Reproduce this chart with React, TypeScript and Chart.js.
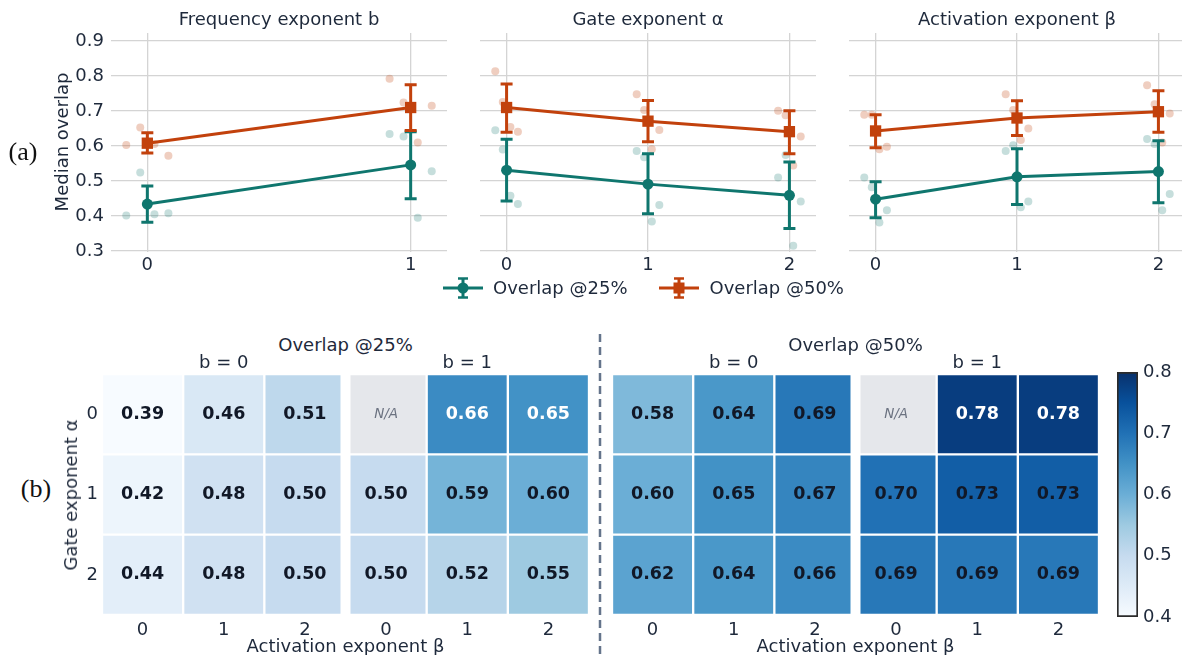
import React, { useEffect, useRef } from 'react';
import { Chart, registerables } from 'chart.js';

Chart.register(...registerables);

const FONT = "'DejaVu Sans', 'Noto Sans', sans-serif";
const SERIF = "'Liberation Serif', 'DejaVu Serif', serif";
const TEXT = '#1e293b';
const GRID = '#d4d4d4';
const TEAL = '#0f766e';
const ORANGE = '#c2410c';
const TEAL_FAINT = 'rgba(15,118,110,0.24)';
const ORANGE_FAINT = 'rgba(194,65,12,0.26)';
const NA_FILL = '#e5e7eb';
const NA_TEXT = '#6b7280';
const CELL_TEXT = '#111827';

Chart.defaults.font.family = FONT;
Chart.defaults.color = TEXT;

// ---------------- (a) data ----------------
const seriesNames = ['Overlap @25%', 'Overlap @50%'];
const panelTitles = ['Frequency exponent b', 'Gate exponent α', 'Activation exponent β'];
const yTickValues = [0.3, 0.4, 0.5, 0.6, 0.7, 0.8, 0.9];
const jitterOffsets = [-0.08, -0.027, 0.027, 0.08];

const bCategories = ['0', '1'];
const bMean25 = [0.434, 0.546];
const bLo25 = [0.382, 0.449];
const bHi25 = [0.486, 0.641];
const bMean50 = [0.608, 0.71];
const bLo50 = [0.58, 0.644];
const bHi50 = [0.638, 0.775];
const bRuns25 = [[0.401, 0.524, 0.405, 0.408], [0.634, 0.627, 0.395, 0.528]];
const bRuns50 = [[0.603, 0.653, 0.606, 0.572], [0.792, 0.724, 0.61, 0.715]];

const alphaCategories = ['0', '1', '2'];
const alphaMean25 = [0.531, 0.491, 0.459];
const alphaLo25 = [0.443, 0.406, 0.364];
const alphaHi25 = [0.619, 0.578, 0.554];
const alphaMean50 = [0.71, 0.671, 0.641];
const alphaLo50 = [0.639, 0.612, 0.578];
const alphaHi50 = [0.777, 0.73, 0.701];
const alphaRuns25 = [[0.645, 0.59, 0.458, 0.434], [0.586, 0.568, 0.384, 0.431], [0.51, 0.574, 0.315, 0.441]];
const alphaRuns50 = [[0.814, 0.726, 0.654, 0.641], [0.748, 0.703, 0.591, 0.646], [0.701, 0.688, 0.544, 0.627]];

const betaCategories = ['0', '1', '2'];
const betaMean25 = [0.448, 0.512, 0.527];
const betaLo25 = [0.395, 0.433, 0.438];
const betaHi25 = [0.498, 0.592, 0.615];
const betaMean50 = [0.643, 0.68, 0.698];
const betaLo50 = [0.595, 0.63, 0.639];
const betaHi50 = [0.689, 0.729, 0.758];
const betaRuns25 = [[0.51, 0.482, 0.381, 0.416], [0.586, 0.602, 0.425, 0.441], [0.62, 0.606, 0.416, 0.463]];
const betaRuns50 = [[0.689, 0.689, 0.591, 0.598], [0.748, 0.703, 0.617, 0.65], [0.774, 0.719, 0.61, 0.693]];

// ---------------- (b) data ----------------
const heatColumnLabels = ['0', '1', '2', '0', '1', '2']; // β for b = 0 | b = 1
const heatGroupLabels = ['b = 0', 'b = 1'];
const heatRowLabels = ['0', '1', '2']; // α
const heatTitles = ['Overlap @25%', 'Overlap @50%'];
const overlap25Grid: (number | null)[][] = [
  [0.39, 0.46, 0.51, null, 0.66, 0.65],
  [0.42, 0.48, 0.5, 0.5, 0.59, 0.6],
  [0.44, 0.48, 0.5, 0.5, 0.52, 0.55],
];
const overlap50Grid: (number | null)[][] = [
  [0.58, 0.64, 0.69, null, 0.78, 0.78],
  [0.6, 0.65, 0.67, 0.7, 0.73, 0.73],
  [0.62, 0.64, 0.66, 0.69, 0.69, 0.69],
];
const colorbarTicks = [0.4, 0.5, 0.6, 0.7, 0.8];
const colorMin = 0.4;
const colorMax = 0.8;
const BLUES = ['#f7fbff', '#deebf7', '#c6dbef', '#9ecae1', '#6baed6', '#4292c6', '#2171b5', '#08519c', '#08306b'];

function hexToRgb(h: string) {
  return [parseInt(h.slice(1, 3), 16), parseInt(h.slice(3, 5), 16), parseInt(h.slice(5, 7), 16)];
}
function blues(v: number) {
  const t = Math.min(1, Math.max(0, (v - colorMin) / (colorMax - colorMin)));
  const pos = t * (BLUES.length - 1);
  const i0 = Math.min(BLUES.length - 2, Math.floor(pos));
  const f = pos - i0;
  const a = hexToRgb(BLUES[i0]);
  const b = hexToRgb(BLUES[i0 + 1]);
  const c = a.map((x, k) => Math.round(x + (b[k] - x) * f));
  return `rgb(${c[0]},${c[1]},${c[2]})`;
}

const zeroPad = (s: any) => {
  s.paddingTop = 0;
  s.paddingBottom = 0;
  s.paddingLeft = 0;
  s.paddingRight = 0;
};

// ---------------- plugins ----------------
const errorBarPlugin = {
  id: 'errorBars',
  beforeDatasetDraw(chart: any, args: any) {
    const ds = chart.data.datasets[args.index];
    if (!ds.errLo) return;
    const xs = chart.scales.x;
    const ys = chart.scales.y;
    const ctx = chart.ctx;
    ctx.save();
    ctx.strokeStyle = ds.borderColor;
    ctx.lineWidth = 3;
    ds.data.forEach((pt: any, i: number) => {
      const px = xs.getPixelForValue(pt.x);
      const lo = ys.getPixelForValue(ds.errLo[i]);
      const hi = ys.getPixelForValue(ds.errHi[i]);
      ctx.beginPath();
      ctx.moveTo(px, lo);
      ctx.lineTo(px, hi);
      ctx.moveTo(px - 6, lo);
      ctx.lineTo(px + 6, lo);
      ctx.moveTo(px - 6, hi);
      ctx.lineTo(px + 6, hi);
      ctx.stroke();
    });
    ctx.restore();
  },
};

const heatLabelPlugin = {
  id: 'heatLabels',
  afterDatasetsDraw(chart: any) {
    const ctx = chart.ctx;
    const xs = chart.scales.x;
    const area = chart.chartArea;
    // white separator between the b = 0 and b = 1 blocks
    const xSep = (xs.getPixelForValue(2) + xs.getPixelForValue(3)) / 2;
    ctx.save();
    ctx.fillStyle = '#ffffff';
    ctx.fillRect(xSep - 5, area.top - 1, 10, area.bottom - area.top + 2);
    const all: number[] = [];
    chart.data.datasets.forEach((ds: any) => ds.cellValues.forEach((v: any) => v != null && all.push(v)));
    const lo = Math.min(...all);
    const hi = Math.max(...all);
    const thr = lo + 0.85 * (hi - lo);
    ctx.textAlign = 'center';
    ctx.textBaseline = 'middle';
    chart.data.datasets.forEach((ds: any, di: number) => {
      const meta = chart.getDatasetMeta(di);
      meta.data.forEach((el: any, i: number) => {
        const v = ds.cellValues[i];
        const cy = (el.y + el.base) / 2;
        if (v == null) {
          ctx.font = `italic 13.5px ${FONT}`;
          ctx.fillStyle = NA_TEXT;
          ctx.fillText('N/A', el.x, cy);
        } else {
          ctx.font = `bold 17.5px ${FONT}`;
          ctx.fillStyle = v > thr ? '#ffffff' : CELL_TEXT;
          ctx.fillText(v.toFixed(2), el.x, cy);
        }
      });
    });
    ctx.restore();
  },
};

// ---------------- configs ----------------
type Panel = {
  title: string;
  cats: string[];
  mean25: number[]; lo25: number[]; hi25: number[];
  mean50: number[]; lo50: number[]; hi50: number[];
  runs25: number[][]; runs50: number[][];
  xMin: number; xMax: number;
  left: number; width: number; yAxisWidth: number; padRight: number; showY: boolean; titleX: number;
};

const panels: Panel[] = [
  {
    title: panelTitles[0], cats: bCategories,
    mean25: bMean25, lo25: bLo25, hi25: bHi25, mean50: bMean50, lo50: bLo50, hi50: bHi50,
    runs25: bRuns25, runs50: bRuns50, xMin: -0.138, xMax: 1.138,
    left: 0, width: 460, yAxisWidth: 111, padRight: 13, showY: true, titleX: 279,
  },
  {
    title: panelTitles[1], cats: alphaCategories,
    mean25: alphaMean25, lo25: alphaLo25, hi25: alphaHi25, mean50: alphaMean50, lo50: alphaLo50, hi50: alphaHi50,
    runs25: alphaRuns25, runs50: alphaRuns50, xMin: -0.188, xMax: 2.188,
    left: 470, width: 360, yAxisWidth: 10, padRight: 14, showY: false, titleX: 648,
  },
  {
    title: panelTitles[2], cats: betaCategories,
    mean25: betaMean25, lo25: betaLo25, hi25: betaHi25, mean50: betaMean50, lo50: betaLo50, hi50: betaHi50,
    runs25: betaRuns25, runs50: betaRuns50, xMin: -0.188, xMax: 2.188,
    left: 840, width: 345, yAxisWidth: 9, padRight: 0, showY: false, titleX: 1017,
  },
];

function runsToPoints(runs: number[][]) {
  const pts: { x: number; y: number }[] = [];
  runs.forEach((row, c) => row.forEach((y, k) => pts.push({ x: c + jitterOffsets[k], y })));
  return pts;
}

function lineConfig(p: Panel): any {
  return {
    type: 'scatter',
    data: {
      datasets: [
        {
          label: 'runs25', data: runsToPoints(p.runs25), order: 4,
          pointRadius: 4, pointHoverRadius: 4, pointBackgroundColor: TEAL_FAINT, pointBorderWidth: 0, showLine: false,
        },
        {
          label: 'runs50', data: runsToPoints(p.runs50), order: 3,
          pointRadius: 4, pointHoverRadius: 4, pointBackgroundColor: ORANGE_FAINT, pointBorderWidth: 0, showLine: false,
        },
        {
          label: seriesNames[0], data: p.mean25.map((y, i) => ({ x: i, y })), order: 1,
          showLine: true, borderColor: TEAL, borderWidth: 3, backgroundColor: TEAL,
          pointStyle: 'circle', pointRadius: 5.5, pointHoverRadius: 5.5, pointBorderWidth: 0, pointBackgroundColor: TEAL,
          errLo: p.lo25, errHi: p.hi25,
        },
        {
          label: seriesNames[1], data: p.mean50.map((y, i) => ({ x: i, y })), order: 0,
          showLine: true, borderColor: ORANGE, borderWidth: 3, backgroundColor: ORANGE,
          pointStyle: 'rect', pointRadius: 8, pointHoverRadius: 8, pointBorderWidth: 0, pointBackgroundColor: ORANGE,
          errLo: p.lo50, errHi: p.hi50,
        },
      ],
    },
    options: {
      animation: false,
      responsive: false,
      devicePixelRatio: 1,
      events: [],
      layout: { autoPadding: false, padding: { top: 8, right: p.padRight, left: 0, bottom: 0 } },
      plugins: { legend: { display: false }, tooltip: { enabled: false }, title: { display: false } },
      scales: {
        x: {
          type: 'linear', min: p.xMin, max: p.xMax,
          afterBuildTicks: (s: any) => { s.ticks = p.cats.map((_, i) => ({ value: i })); },
          afterFit: (s: any) => { s.height = 28; zeroPad(s); },
          ticks: {
            callback: (v: any) => p.cats[Math.round(v)] ?? '',
            font: { size: 18 }, color: TEXT, padding: 3, autoSkip: false, maxRotation: 0,
          },
          grid: { color: GRID, lineWidth: 1.3, drawTicks: false },
          border: { display: false },
        },
        y: {
          type: 'linear', min: 0.297, max: 0.923,
          afterBuildTicks: (s: any) => { s.ticks = yTickValues.map((v) => ({ value: v })); },
          afterFit: (s: any) => { s.width = p.yAxisWidth; zeroPad(s); },
          ticks: {
            display: p.showY,
            callback: (v: any) => Number(v).toFixed(1),
            font: { size: 18 }, color: TEXT, padding: 7,
          },
          grid: { color: GRID, lineWidth: 1.3, drawTicks: false },
          border: { display: false },
        },
      },
    },
    plugins: [errorBarPlugin],
  };
}

function heatConfig(grid: (number | null)[][], yAxisWidth: number, showY: boolean): any {
  return {
    type: 'bar',
    data: {
      labels: heatColumnLabels,
      datasets: grid.map((row, r) => ({
        label: `α = ${heatRowLabels[r]}`,
        data: row.map(() => [r - 0.5, r + 0.5]),
        cellValues: row,
        backgroundColor: row.map((v) => (v == null ? NA_FILL : blues(v))),
        borderColor: '#ffffff',
        borderWidth: 1.5,
        borderSkipped: false,
        barPercentage: 1,
        categoryPercentage: 1,
        grouped: false,
      })),
    },
    options: {
      animation: false,
      responsive: false,
      devicePixelRatio: 1,
      events: [],
      layout: { autoPadding: false, padding: { top: 9, right: 11, left: 0, bottom: 0 } },
      plugins: { legend: { display: false }, tooltip: { enabled: false } },
      scales: {
        x: {
          type: 'category',
          afterFit: (s: any) => { s.height = 40; zeroPad(s); },
          ticks: { font: { size: 18 }, color: TEXT, padding: 5, maxRotation: 0, autoSkip: false },
          grid: { display: false, drawTicks: false },
          border: { display: false },
        },
        y: {
          type: 'linear', reverse: true, min: -0.5, max: 2.5,
          afterBuildTicks: (s: any) => { s.ticks = heatRowLabels.map((_, i) => ({ value: i })); },
          afterFit: (s: any) => { s.width = yAxisWidth; zeroPad(s); },
          ticks: {
            display: showY,
            callback: (v: any) => heatRowLabels[Math.round(v)] ?? '',
            font: { size: 18 }, color: TEXT, padding: 4,
          },
          grid: { display: false, drawTicks: false },
          border: { display: false },
        },
      },
    },
    plugins: [heatLabelPlugin],
  };
}

function colorbarConfig(): any {
  return {
    type: 'bar',
    data: {
      labels: [''],
      datasets: [
        {
          data: [[colorMin, colorMax]],
          backgroundColor: (c: any) => {
            const chart = c.chart;
            if (!chart.chartArea) return BLUES[4];
            const ys = chart.scales.y;
            const g = chart.ctx.createLinearGradient(0, ys.getPixelForValue(colorMin), 0, ys.getPixelForValue(colorMax));
            BLUES.forEach((col, i) => g.addColorStop(i / (BLUES.length - 1), col));
            return g;
          },
          borderColor: '#2b2b2b',
          borderWidth: 2,
          borderSkipped: false,
          barPercentage: 1,
          categoryPercentage: 1,
        },
      ],
    },
    options: {
      animation: false,
      responsive: false,
      devicePixelRatio: 1,
      events: [],
      layout: { autoPadding: false, padding: { top: 17, right: 0, left: 7, bottom: 18 } },
      plugins: { legend: { display: false }, tooltip: { enabled: false } },
      scales: {
        x: { display: false },
        y: {
          position: 'right', min: colorMin, max: colorMax,
          afterBuildTicks: (s: any) => { s.ticks = colorbarTicks.map((v) => ({ value: v })); },
          afterFit: (s: any) => { s.width = 44; zeroPad(s); },
          ticks: { callback: (v: any) => Number(v).toFixed(1), font: { size: 18 }, color: TEXT, padding: 5 },
          grid: { display: false, drawTicks: false },
          border: { display: false },
        },
      },
    },
  };
}

// ---------------- components ----------------
function ChartBox({ left, top, width, height, make }: { left: number; top: number; width: number; height: number; make: () => any }) {
  const ref = useRef<HTMLCanvasElement>(null);
  useEffect(() => {
    const chart = new Chart(ref.current as HTMLCanvasElement, make());
    return () => chart.destroy();
  }, []);
  return <canvas ref={ref} width={width} height={height} style={{ position: 'absolute', left, top, width, height }} />;
}

function Label({ x, y, text, size = 18, rotate = false, family = FONT, color = TEXT }: any) {
  return (
    <div
      style={{
        position: 'absolute', left: x, top: y,
        transform: `translate(-50%, -50%)${rotate ? ' rotate(-90deg)' : ''}`,
        fontFamily: family, fontSize: size, color, whiteSpace: 'nowrap', lineHeight: 1,
      }}
    >
      {text}
    </div>
  );
}

function LegendIcon({ color, square }: { color: string; square: boolean }) {
  return (
    <svg width={40} height={24} style={{ display: 'block' }}>
      <line x1={0} y1={12} x2={40} y2={12} stroke={color} strokeWidth={3} />
      <line x1={20} y1={2.5} x2={20} y2={21.5} stroke={color} strokeWidth={3} />
      <line x1={15} y1={2.5} x2={25} y2={2.5} stroke={color} strokeWidth={2.5} />
      <line x1={15} y1={21.5} x2={25} y2={21.5} stroke={color} strokeWidth={2.5} />
      {square ? <rect x={14.5} y={6.5} width={11} height={11} fill={color} /> : <circle cx={20} cy={12} r={5.5} fill={color} />}
    </svg>
  );
}

export default function App() {
  const heat1Left = 102, heat1Right = 589;
  const heat2Left = 612, heat2Right = 1099;
  const colW1 = (heat1Right - heat1Left) / 6;
  const colW2 = (heat2Right - heat2Left) / 6;
  return (
    <div style={{ position: 'absolute', left: 0, top: 0, width: 1182, height: 655, overflow: 'hidden', background: '#ffffff', fontFamily: FONT, color: TEXT }}>
      {panels.map((p, i) => (
        <ChartBox key={'p' + i} left={p.left} top={25} width={p.width} height={255} make={() => lineConfig(p)} />
      ))}
      {panels.map((p, i) => (
        <Label key={'t' + i} x={p.titleX} y={19} text={p.title} />
      ))}
      <Label x={23} y={152} text="(a)" size={26} family={SERIF} color="#111111" />
      <Label x={62} y={142} text="Median overlap" rotate />

      {/* legend */}
      <div style={{ position: 'absolute', left: 443, top: 276, height: 24, display: 'flex', alignItems: 'center' }}>
        <LegendIcon color={TEAL} square={false} />
        <span style={{ marginLeft: 10, fontSize: 18, lineHeight: 1 }}>{seriesNames[0]}</span>
        <span style={{ width: 32 }} />
        <LegendIcon color={ORANGE} square />
        <span style={{ marginLeft: 10, fontSize: 18, lineHeight: 1 }}>{seriesNames[1]}</span>
      </div>

      {/* (b) heatmaps */}
      <ChartBox left={60} top={365} width={540} height={290} make={() => heatConfig(overlap25Grid, 42, true)} />
      <ChartBox left={580} top={365} width={530} height={290} make={() => heatConfig(overlap50Grid, 32, false)} />
      <ChartBox left={1110} top={355} width={72} height={280} make={() => colorbarConfig()} />

      <Label x={36} y={489} text="(b)" size={26} family={SERIF} color="#111111" />
      <Label x={71} y={495} text="Gate exponent α" rotate />

      <Label x={(heat1Left + heat1Right) / 2} y={345} text={heatTitles[0]} />
      <Label x={heat1Left + colW1 * 1.5} y={362} text={heatGroupLabels[0]} />
      <Label x={heat1Left + colW1 * 4.5} y={362} text={heatGroupLabels[1]} />
      <Label x={(heat1Left + heat1Right) / 2} y={646} text="Activation exponent β" />

      <Label x={(heat2Left + heat2Right) / 2} y={345} text={heatTitles[1]} />
      <Label x={heat2Left + colW2 * 1.5} y={362} text={heatGroupLabels[0]} />
      <Label x={heat2Left + colW2 * 4.5} y={362} text={heatGroupLabels[1]} />
      <Label x={(heat2Left + heat2Right) / 2} y={646} text="Activation exponent β" />

      <svg width={1182} height={655} style={{ position: 'absolute', left: 0, top: 0, pointerEvents: 'none' }}>
        <line x1={600} y1={334} x2={600} y2={655} stroke="#64748b" strokeWidth={2.5} strokeDasharray="8 5" />
      </svg>
    </div>
  );
}
